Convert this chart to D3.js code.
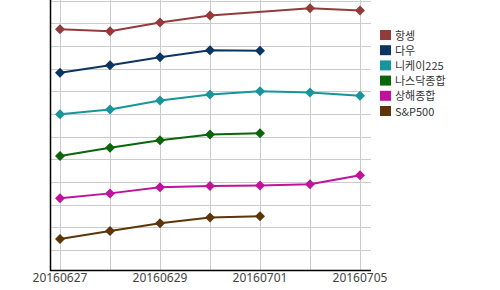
<!DOCTYPE html>
<html>
<head>
<meta charset="utf-8">
<script src="https://cdn.jsdelivr.net/npm/d3@7"></script>
<style>
  body { margin: 0; background: #fff; }
  svg { display: block; }
</style>
</head>
<body>
<div id="chart"></div>
<script>
// dates on x axis (categorical), only every other one gets a label
var dates = ["20160627", "20160628", "20160629", "20160630", "20160701", "20160704", "20160705"];
var tickLabels = ["20160627", "20160629", "20160701", "20160705"];

// values (null = no trading that day)
var hangseng = [97.4, 96.5, 100.4, 103.5, null, 106.7, 105.7];
var dow      = [78.2, 81.5, 85.0, 88.1, 87.9, null, null];
var nikkei   = [59.9, 62.0, 66.0, 68.6, 70.0, 69.5, 68.1];
var nasdaq   = [41.5, 45.1, 48.4, 51.0, 51.5, null, null];
var shanghai = [22.8, 25.0, 27.7, 28.2, 28.5, 29.0, 33.0];
var sp500    = [4.9, 8.4, 11.8, 14.4, 14.9, null, null];

var names  = ["항셍", "다우", "니케이225", "나스닥종합", "상해종합", "S&P500"];
var colors = ["#933b3b", "#0b3463", "#17959b", "#0b650b", "#c0129a", "#5c3508"];
var series = [hangseng, dow, nikkei, nasdaq, shanghai, sp500];

var W = 500, H = 290;
var plot = {left: 50, right: 371, top: 0, bottom: 270};

var svg = d3.select("#chart").append("svg")
    .attr("width", W)
    .attr("height", H);

var x = d3.scalePoint()
    .domain(dates)
    .range([60, 360]);

var y = d3.scaleLinear()
    .domain([-8.8, 110.3])
    .range([plot.bottom, plot.top]);

// grid
svg.append("g").selectAll("line.h")
    .data(d3.range(0, 111, 10))
    .enter().append("line")
    .attr("x1", plot.left).attr("x2", plot.right)
    .attr("y1", function(d){ return Math.round(y(d)) + 0.5; })
    .attr("y2", function(d){ return Math.round(y(d)) + 0.5; })
    .attr("stroke", "#cccccc")
    .attr("stroke-width", 1);

svg.append("g").selectAll("line.v")
    .data(dates)
    .enter().append("line")
    .attr("x1", function(d){ return x(d) + 0.5; })
    .attr("x2", function(d){ return x(d) + 0.5; })
    .attr("y1", plot.top).attr("y2", plot.bottom)
    .attr("stroke", "#cccccc")
    .attr("stroke-width", 1);

// axes lines
svg.append("line")
    .attr("x1", plot.left + 0.5).attr("x2", plot.left + 0.5)
    .attr("y1", plot.top).attr("y2", plot.bottom + 1)
    .attr("stroke", "#000").attr("stroke-width", 1.5);
svg.append("line")
    .attr("x1", plot.left).attr("x2", plot.right)
    .attr("y1", plot.bottom + 0.5).attr("y2", plot.bottom + 0.5)
    .attr("stroke", "#000").attr("stroke-width", 1.5);

// x labels
svg.append("g").selectAll("text")
    .data(tickLabels)
    .enter().append("text")
    .attr("x", function(d){ return x(d); })
    .attr("y", 282)
    .attr("text-anchor", "middle")
    .attr("font-family", "'Noto Sans', sans-serif")
    .attr("font-size", "12px")
    .attr("fill", "#444")
    .text(function(d){ return d; });

// lines + markers
var line = d3.line()
    .x(function(d){ return x(d.date); })
    .y(function(d){ return y(d.v); });

series.forEach(function(vals, i){
    var pts = dates.map(function(d, j){ return {date: d, v: vals[j]}; })
        .filter(function(p){ return p.v !== null; });

    svg.append("path")
        .datum(pts)
        .attr("d", line)
        .attr("fill", "none")
        .attr("stroke", colors[i])
        .attr("stroke-width", 2);

    svg.append("g").selectAll("path")
        .data(pts)
        .enter().append("path")
        .attr("d", "M0,-5L5,0L0,5L-5,0Z")
        .attr("transform", function(p){ return "translate(" + x(p.date) + "," + y(p.v) + ")"; })
        .attr("fill", colors[i]);
});

// legend
var legend = svg.append("g").attr("transform", "translate(380,30)");
var items = legend.selectAll("g")
    .data(names)
    .enter().append("g")
    .attr("transform", function(d, i){ return "translate(0," + (i * 15.2) + ")"; });

items.append("rect")
    .attr("x", 0).attr("y", 0)
    .attr("width", 11).attr("height", 10)
    .attr("fill", function(d, i){ return colors[i]; });

items.append("text")
    .attr("x", 15).attr("y", 9.5)
    .attr("font-family", "'Noto Sans CJK KR', sans-serif")
    .attr("font-size", "11px")
    .attr("fill", "#333")
    .text(function(d){ return d; });
</script>
</body>
</html>
